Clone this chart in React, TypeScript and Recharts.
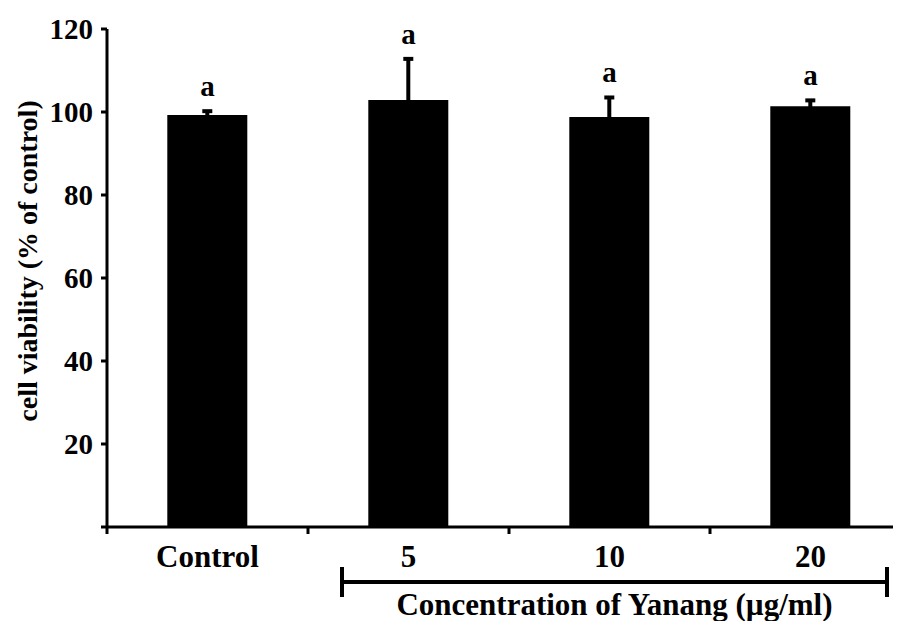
import { Bar, ComposedChart, ErrorBar, LabelList, Line, XAxis, YAxis } from "recharts";

const categories = ["Control", "5", "10", "20"];
const viability = [99.3, 102.9, 98.8, 101.4];
const sd = [0.9, 9.9, 4.7, 1.4];
const letters = ["a", "a", "a", "a"];
const yTicks = [0, 20, 40, 60, 80, 100, 120];

const rows = categories.map((name, i) => ({
  name,
  value: viability[i],
  sd: sd[i],
  upper: viability[i] + sd[i],
  letter: letters[i],
}));

const FONT = "'Liberation Serif', 'Times New Roman', serif";

function CategoryTick(props: any) {
  const { x, y, payload, index } = props;
  const off = payload?.offset ?? 0;
  return (
    <g>
      <line x1={x + off} x2={x + off} y1={y} y2={y + 7} stroke="#000" strokeWidth={3} />
      {index === 0 && (
        <line x1={x - off} x2={x - off} y1={y} y2={y + 7} stroke="#000" strokeWidth={3} />
      )}
      <text x={x} y={y + 40} textAnchor="middle" fontFamily={FONT} fontWeight="bold" fontSize={31} fill="#000">
        {payload.value}
      </text>
    </g>
  );
}

function Bracket(props: any) {
  const vb = props.viewBox || {};
  const band = vb.width / categories.length;
  const x1 = vb.x + band + 34;
  const x2 = vb.x + band * categories.length - 24;
  const y = vb.y;
  return (
    <g>
      <line x1={x1} x2={x2} y1={y + 55} y2={y + 55} stroke="#000" strokeWidth={4} />
      <line x1={x1} x2={x1} y1={y + 40} y2={y + 70} stroke="#000" strokeWidth={4} />
      <line x1={x2} x2={x2} y1={y + 40} y2={y + 70} stroke="#000" strokeWidth={4} />
      <text x={(x1 + x2) / 2} y={y + 88} textAnchor="middle" fontFamily={FONT} fontWeight="bold" fontSize={31} fill="#000">
        Concentration of Yanang (µg/ml)
      </text>
    </g>
  );
}

function YTitle(props: any) {
  const vb = props.viewBox || {};
  const cx = 19;
  const cy = vb.y + vb.height / 2 - 17;
  return (
    <text
      x={cx}
      y={cy}
      transform={`rotate(-90, ${cx}, ${cy})`}
      textAnchor="middle"
      dominantBaseline="central"
      fontFamily={FONT}
      fontWeight="bold"
      fontSize={28}
      fill="#000"
    >
      cell viability (% of control)
    </text>
  );
}

function Letter(props: any) {
  const { x, y, value } = props;
  return (
    <text x={x} y={y - 15} textAnchor="middle" fontFamily={FONT} fontWeight="bold" fontSize={29} fill="#000">
      {value}
    </text>
  );
}

export default function App() {
  return (
    <div style={{ width: 893, height: 613, overflow: "hidden", background: "#fff" }}>
      <ComposedChart
        width={920}
        height={613}
        data={rows}
        margin={{ top: 21, right: 17, bottom: 0, left: 0 }}
        barCategoryGap="30%"
      >
        <XAxis
          dataKey="name"
          interval={0}
          tickLine={false}
          tickSize={0}
          tickMargin={0}
          tick={<CategoryTick />}
          axisLine={{ stroke: "#000", strokeWidth: 3 }}
          height={94}
          label={(p: any) => <Bracket {...p} />}
        />
        <YAxis
          domain={[0, 120]}
          ticks={yTicks}
          tickFormatter={(v: number) => (v === 0 ? "" : String(v))}
          axisLine={{ stroke: "#000", strokeWidth: 3 }}
          tickLine={{ stroke: "#000", strokeWidth: 3 }}
          tickSize={6}
          tickMargin={8}
          width={99}
          tick={{ fontFamily: FONT, fontWeight: "bold", fontSize: 29, fill: "#000" }}
          label={(p: any) => <YTitle {...p} />}
        />
        <Bar dataKey="value" fill="#000" isAnimationActive={false}>
          <ErrorBar dataKey="sd" width={5} stroke="#000" strokeWidth={4} direction="y" />
        </Bar>
        <Line dataKey="upper" stroke="none" dot={false} activeDot={false} isAnimationActive={false}>
          <LabelList dataKey="letter" content={<Letter />} />
        </Line>
      </ComposedChart>
    </div>
  );
}
